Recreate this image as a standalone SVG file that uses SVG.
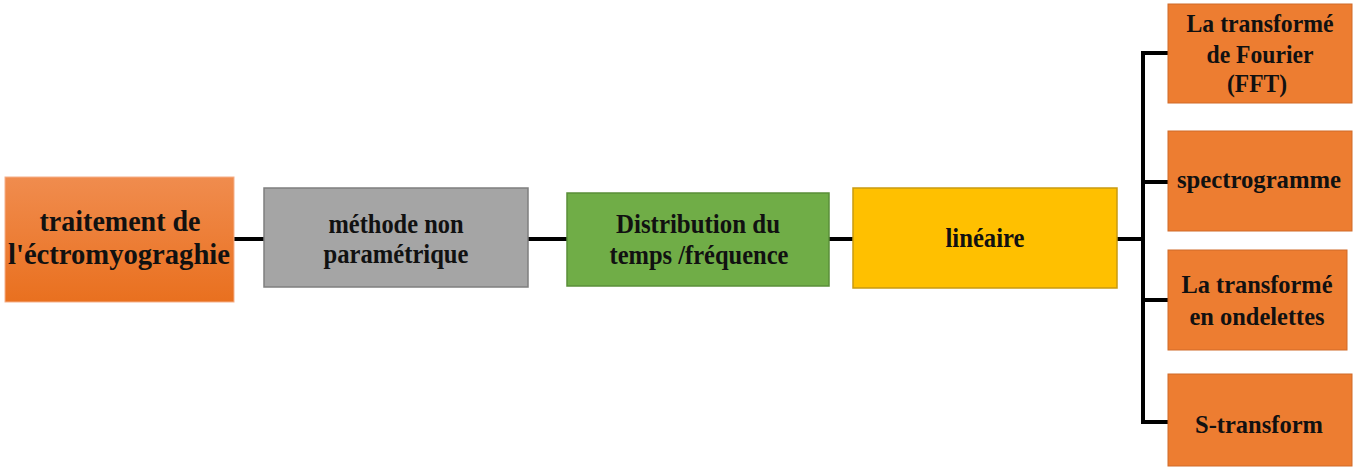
<svg xmlns="http://www.w3.org/2000/svg" width="1366" height="471" viewBox="0 0 1366 471">
<style>
.t{font-family:"Liberation Serif","Times New Roman",serif;font-weight:bold;fill:#111;text-anchor:middle}
.conn{stroke:#000;stroke-width:4;fill:none}
.or{fill:#ED7D31;stroke:#D06A28;stroke-width:1}
</style>
<defs>
<linearGradient id="g1" x1="0" y1="0" x2="0" y2="1">
<stop offset="0" stop-color="#F08C4E"/>
<stop offset="1" stop-color="#E9701F"/>
</linearGradient>
</defs>
<rect width="1366" height="471" fill="#fff"/>
<g id="connectors">
<line class="conn" x1="234" y1="239" x2="264" y2="239"/>
<line class="conn" x1="528" y1="239" x2="567" y2="239"/>
<line class="conn" x1="829" y1="239" x2="853" y2="239"/>
<line class="conn" x1="1117" y1="239" x2="1143" y2="239"/>
<polyline class="conn" points="1168,53 1143,53 1143,422 1168,422"/>
<line class="conn" x1="1143" y1="182" x2="1168" y2="182"/>
<line class="conn" x1="1143" y1="300" x2="1168" y2="300"/>
</g>
<g id="n1">
<rect x="5" y="177" width="229" height="125" fill="url(#g1)" stroke="#F5B08A" stroke-width="1"/>
<text class="t" x="120" y="231" font-size="29" textLength="161" lengthAdjust="spacingAndGlyphs">traitement de</text>
<text class="t" x="119" y="264" font-size="29" textLength="222" lengthAdjust="spacingAndGlyphs">l'éctromyograghie</text>
</g>
<g id="n2">
<rect x="264" y="188" width="264" height="99" fill="#A5A5A5" stroke="#7F7F7F" stroke-width="1.5"/>
<text class="t" x="396" y="233" font-size="27" textLength="135" lengthAdjust="spacingAndGlyphs">méthode non</text>
<text class="t" x="396" y="263" font-size="27" textLength="145" lengthAdjust="spacingAndGlyphs">paramétrique</text>
</g>
<g id="n3">
<rect x="567" y="193" width="262" height="93" fill="#70AD47" stroke="#5A8F38" stroke-width="1.5"/>
<text class="t" x="698" y="233" font-size="28" textLength="164" lengthAdjust="spacingAndGlyphs">Distribution du</text>
<text class="t" x="699" y="264" font-size="28" textLength="179" lengthAdjust="spacingAndGlyphs">temps /fréquence</text>
</g>
<g id="n4">
<rect x="853" y="188" width="264" height="100" fill="#FFC000" stroke="#C99A10" stroke-width="1.5"/>
<text class="t" x="985" y="247" font-size="28" textLength="79" lengthAdjust="spacingAndGlyphs">linéaire</text>
</g>
<g id="n5">
<rect class="or" x="1168" y="4" width="184" height="99"/>
<text class="t" x="1260" y="32" font-size="25" textLength="147" lengthAdjust="spacingAndGlyphs">La transformé</text>
<text class="t" x="1260" y="63" font-size="25" textLength="107" lengthAdjust="spacingAndGlyphs">de Fourier</text>
<text class="t" x="1257" y="92" font-size="25" textLength="60" lengthAdjust="spacingAndGlyphs">(FFT)</text>
</g>
<g id="n6">
<rect class="or" x="1168" y="131" width="184" height="100"/>
<text class="t" x="1259" y="188" font-size="25" textLength="164" lengthAdjust="spacingAndGlyphs">spectrogramme</text>
</g>
<g id="n7">
<rect class="or" x="1168" y="250" width="179" height="100"/>
<text class="t" x="1257" y="293" font-size="25" textLength="151" lengthAdjust="spacingAndGlyphs">La transformé</text>
<text class="t" x="1257" y="325" font-size="25" textLength="135" lengthAdjust="spacingAndGlyphs">en ondelettes</text>
</g>
<g id="n8">
<rect class="or" x="1168" y="374" width="184" height="92"/>
<text class="t" x="1259" y="433" font-size="26" textLength="128" lengthAdjust="spacingAndGlyphs">S-transform</text>
</g>
</svg>
